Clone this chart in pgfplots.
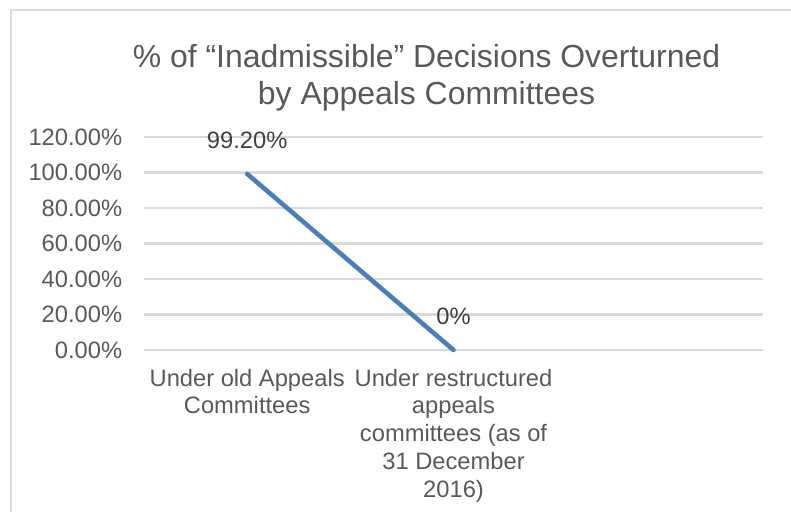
\documentclass[border=0pt]{standalone}
\usepackage{pgfplots}
\pgfplotsset{compat=1.18}
\usepackage{fontspec}
\setmainfont{Liberation Sans}
\definecolor{txt}{HTML}{595959}
\definecolor{lbl}{HTML}{404040}
\definecolor{gridc}{HTML}{D9D9D9}
\definecolor{ln}{HTML}{4A7EBB}
\begin{document}
\begin{tikzpicture}
\useasboundingbox (0,0) rectangle (346.93pt,224.56pt);
% chart area border (only left and top edges show)
\draw[gridc, line width=0.9pt] (4.82pt,0) -- (4.82pt,220.17pt) -- (346.93pt,220.17pt);
\node[anchor=base, text=txt, font=\fontsize{14}{16}\selectfont, inner sep=0pt]
  at (187.06pt,194.74pt) {\% of “Inadmissible” Decisions Overturned};
\node[anchor=base, text=txt, font=\fontsize{14}{16}\selectfont, inner sep=0pt]
  at (187.06pt,178.51pt) {by Appeals Committees};
\begin{axis}[
  at={(63.16pt,71.05pt)}, anchor=south west,
  scale only axis, width=271.5pt, height=93.42pt,
  xmin=-0.5, xmax=2.5, ymin=0, ymax=120,
  clip=false,
  axis line style={draw=none},
  major tick length=0pt,
  xtick={0,1},
  xticklabels={{Under old Appeals\\Committees},{Under restructured\\appeals\\committees (as of\\31 December\\2016)}},
  xticklabel style={align=center, anchor=north, inner sep=0pt, yshift=-8.1pt,
    font=\fontsize{10.4}{12.2}\selectfont, text=txt},
  ytick={0,20,...,120},
  /pgf/number format/assume math mode=true,
  yticklabel={\pgfmathprintnumber[fixed,fixed zerofill,precision=2]{\tick}\%},
  yticklabel style={anchor=east, inner sep=0pt, xshift=-9.4pt,
    font=\fontsize{10.4}{12}\selectfont, text=txt},
  ymajorgrids,
  major grid style={gridc, line width=0.9pt},
]
\addplot[ln, line width=2pt, line cap=round, line join=round, mark=none,
  nodes near coords, point meta=explicit symbolic,
  every node near coord/.append style={anchor=south, inner sep=0pt, yshift=10pt,
    text=lbl, font=\fontsize{10.4}{12}\selectfont}]
  coordinates {(0,99.2) [99.20\%] (1,0) [0\%]};
\end{axis}
\end{tikzpicture}
\end{document}
